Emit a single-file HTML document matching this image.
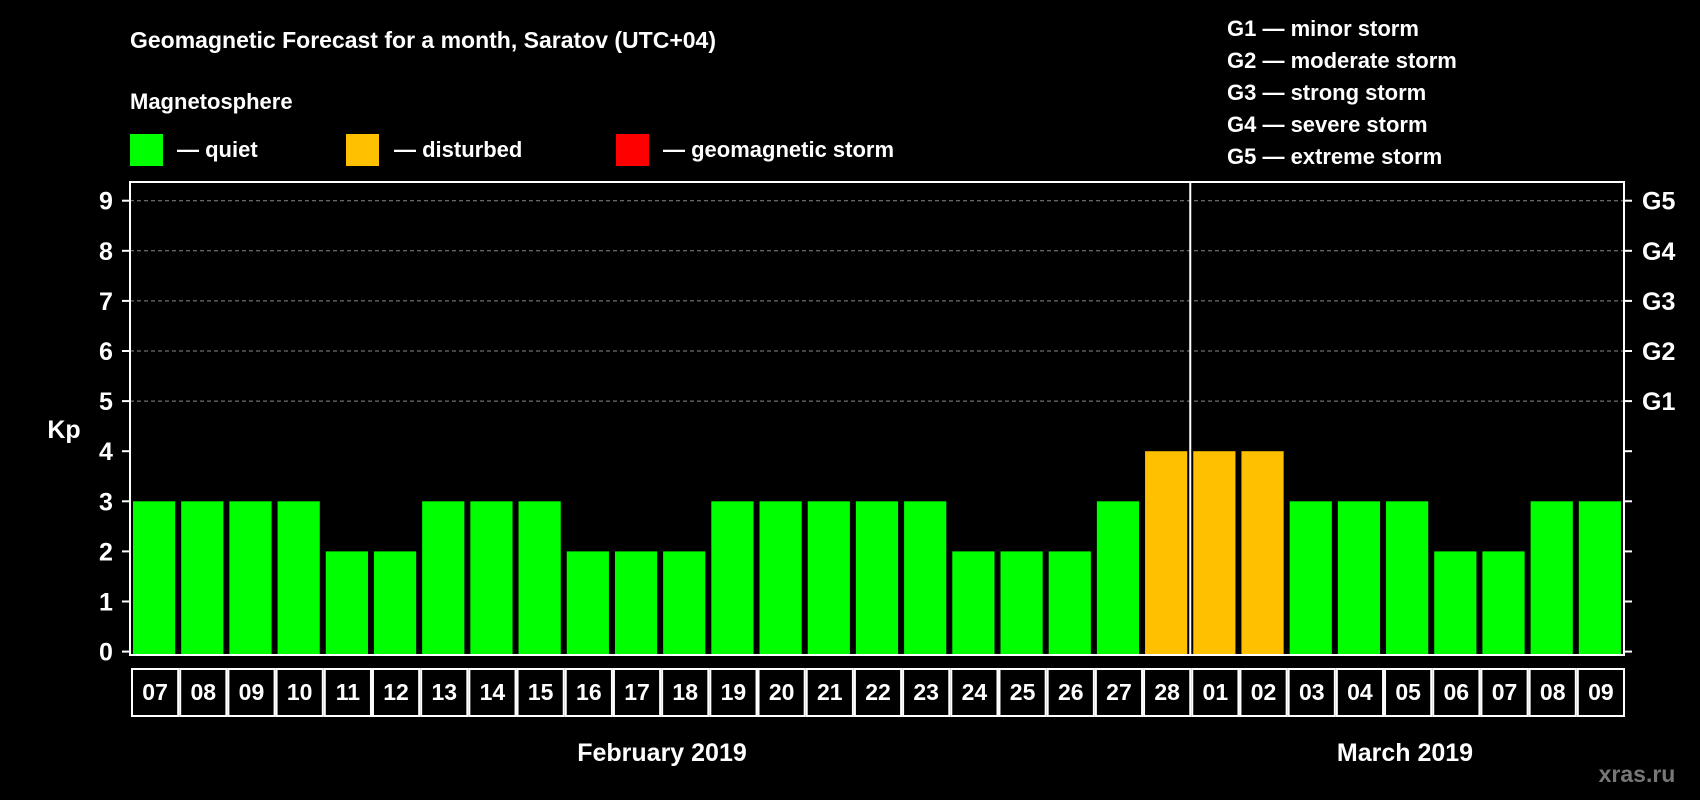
<!DOCTYPE html>
<html><head><meta charset="utf-8"><style>
html,body{margin:0;padding:0;background:#000;}
svg{display:block;font-family:"Liberation Sans",Arial,sans-serif;font-weight:bold;}
</style></head><body>
<svg id="chart" width="1700" height="800" viewBox="0 0 1700 800" xmlns="http://www.w3.org/2000/svg">
<rect width="1700" height="800" fill="#000"/>
<text x="130" y="48" fill="#fff" font-size="23">Geomagnetic Forecast for a month, Saratov (UTC+04)</text>
<text x="130" y="109" fill="#fff" font-size="22">Magnetosphere</text>
<g><rect x="130" y="134" width="33" height="32" fill="#00ff00"/><text x="177" y="157" fill="#fff" font-size="22">— quiet</text></g>
<g><rect x="346" y="134" width="33" height="32" fill="#ffc000"/><text x="394" y="157" fill="#fff" font-size="22">— disturbed</text></g>
<g><rect x="616" y="134" width="33" height="32" fill="#ff0000"/><text x="663" y="157" fill="#fff" font-size="22">— geomagnetic storm</text></g>
<g fill="#fff" font-size="22">
<text x="1227" y="36">G1 — minor storm</text>
<text x="1227" y="68">G2 — moderate storm</text>
<text x="1227" y="100">G3 — strong storm</text>
<text x="1227" y="132">G4 — severe storm</text>
<text x="1227" y="164">G5 — extreme storm</text>
</g>
<text x="64" y="438" fill="#fff" font-size="25" text-anchor="middle">Kp</text>
<g id="plot"></g>
<text x="662" y="761" fill="#fff" font-size="25" text-anchor="middle">February 2019</text>
<text x="1405" y="761" fill="#fff" font-size="25" text-anchor="middle">March 2019</text>
<text x="1637" y="782" fill="#777" font-size="23" text-anchor="middle">xras.ru</text>
</svg>
<script>
const days = ["07","08","09","10","11","12","13","14","15","16","17","18","19","20","21","22","23","24","25","26","27","28","01","02","03","04","05","06","07","08","09"];
const kp = [3,3,3,3,2,2,3,3,3,2,2,2,3,3,3,3,3,2,2,2,3,4,4,4,3,3,3,2,2,3,3];
const yTicks = [0,1,2,3,4,5,6,7,8,9];
const gLabels = ["G1","G2","G3","G4","G5"];
const gLevels = [5,6,7,8,9];
const monthBoundaryIndex = 22;

const NS = "http://www.w3.org/2000/svg";
const L = 130, R = 1624, T = 182, B = 655;
const slot = (R - L) / days.length;
const y = v => 651.6 - v * 50.1;
const x = i => L + i * slot;
const plot = document.getElementById("plot");
function mk(tag, attrs){const e=document.createElementNS(NS,tag);for(const k in attrs)e.setAttribute(k,attrs[k]);plot.appendChild(e);return e;}

// grid
gLevels.forEach(v=>{
  const g = mk("line",{x1:L,x2:R,y1:y(v),y2:y(v),stroke:"#888","stroke-width":1,"stroke-dasharray":"4,3"});
  
  
});
// bars
kp.forEach((v,i)=>{
  const b = mk("rect",{x:x(i)+3,y:y(v),width:slot-6,height:B-y(v),fill:v>=5?"#ff0000":(v>=4?"#ffc000":"#00ff00")});
  
  
});
// month separator
const sep = mk("line",{x1:x(monthBoundaryIndex),x2:x(monthBoundaryIndex),y1:T,y2:B,stroke:"#fff","stroke-width":2});


// frame
const fr = mk("rect",{x:L,y:T,width:R-L,height:B-T,fill:"none",stroke:"#fff","stroke-width":2});


// y ticks
yTicks.forEach(v=>{
  const t1 = mk("line",{x1:L-8,x2:L,y1:y(v),y2:y(v),stroke:"#fff","stroke-width":2});
  
  
  const t2 = mk("line",{x1:R,x2:R+8,y1:y(v),y2:y(v),stroke:"#fff","stroke-width":2});
  
  
  const tl = mk("text",{x:106,y:y(v)+9,fill:"#fff","font-size":25,"text-anchor":"middle"});
  tl.textContent = v;
  
  
});
gLevels.forEach((v,i)=>{
  const gl = mk("text",{x:1642,y:y(v)+9,fill:"#fff","font-size":25});
  gl.textContent = gLabels[i];
  
  
});
// x labels
days.forEach((d,i)=>{
  const bx = mk("rect",{x:x(i)+2,y:669,width:slot-2,height:47,fill:"#000",stroke:"#fff","stroke-width":2});
  
  
  const t = mk("text",{x:x(i)+slot/2+1,y:700,fill:"#fff","font-size":23,"text-anchor":"middle"});
  t.textContent = d;
  
  
});
</script>
</body></html>
